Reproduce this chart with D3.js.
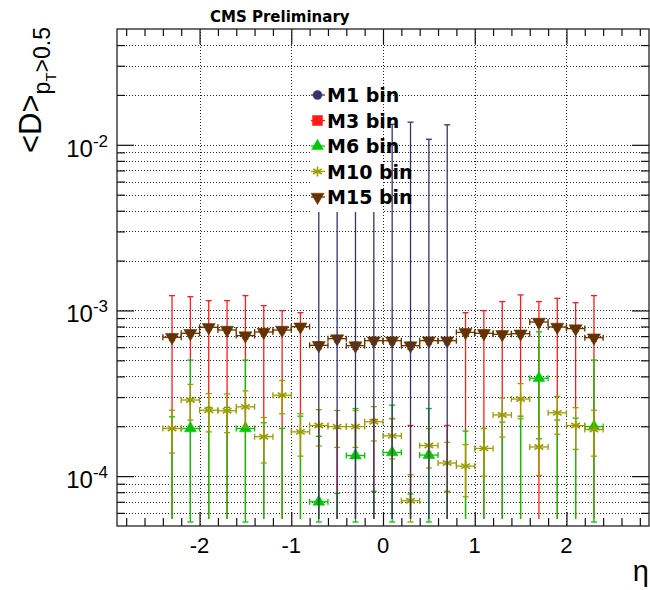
<!DOCTYPE html>
<html>
<head>
<meta charset="utf-8">
<script src="https://cdn.jsdelivr.net/npm/d3@7"></script>
<style>
  body { margin: 0; background: #fff; }
  text { font-family: "Liberation Sans", Arial, sans-serif; }
</style>
</head>
<body>
<div id="graph"></div>
<script>
// eta bin centres (bins of width 0.2)
const etaBins = [-2.3, -2.1, -1.9, -1.7, -1.5, -1.3, -1.1, -0.9, -0.7, -0.5, -0.3, -0.1,
                 0.1, 0.3, 0.5, 0.7, 0.9, 1.1, 1.3, 1.5, 1.7, 1.9, 2.1, 2.3];
const etaHalfWidth = 0.1;
const xTickValues = [-2, -1, 0, 1, 2];
const yDecades = [1e-4, 1e-3, 1e-2];
const yDecadeExp = ["-4", "-3", "-2"];
const titleText = "CMS Preliminary";

// null = no point in that bin, 0 = point at zero (only the error bar shows on log scale)
const m1Val = [null, null, null, null, null, null, null, null, 0, 0, 0, 0,
               0, 0, 0, 0, null, null, null, null, null, null, null, null];
const m1Err = [null, null, null, null, null, null, null, null, 0.0125, 0.0118, 0.0130, 0.0122,
               0.0133, 0.0137, 0.0108, 0.0132, null, null, null, null, null, null, null, null];

const m3Val = [0, 0, 0, 0, 0, 0, 0, 0, 0, 0, 0, 0,
               0, 0, null, 0, 0, 0, 0, 0, 0, 0, 0, 0];
const m3Err = [1.229e-3, 1.212e-3, 1.147e-3, 1.147e-3, 1.229e-3, 1.070e-3, 0.998e-3, 0.970e-3,
               1.99e-4, 1.94e-4, 2.02e-4, 2.20e-4, 2.22e-4, 2.02e-4, null, 2.02e-4,
               0.970e-3, 0.998e-3, 1.131e-3, 1.241e-3, 1.131e-3, 1.184e-3, 1.115e-3, 1.229e-3];

const m6Val = [0, 1.94e-4, 0, 0, 1.94e-4, 0, 0, 0, 7.0e-5, 0, 1.33e-4, 0,
               1.39e-4, 0, 1.34e-4, 0, 0, 0, 0, 0, 3.9e-4, 0, 0, 1.99e-4];
const m6ErrHi = [2.28e-4, 3.08e-4, 2.6e-4, 2.6e-4, 3.08e-4, 2.10e-4, 1.94e-4, 2.3e-4,
                 1.04e-4, 7.86e-5, 1.23e-4, 8.1e-5, 1.29e-4, 7.8e-5, 1.22e-4, 8.1e-5,
                 1.87e-4, 1.94e-4, 2.12e-4, 2.3e-4, 3.53e-4, 2.18e-4, 2.24e-4, 3.03e-4];
const m6ErrLo = [2.28e-4, 3.08e-4, 2.6e-4, 2.6e-4, 3.08e-4, 2.10e-4, 1.94e-4, 2.3e-4,
                 1.04e-4, 7.86e-5, 1.23e-4, 8.1e-5, 1.29e-4, 7.8e-5, 1.22e-4, 8.1e-5,
                 1.87e-4, 1.94e-4, 2.12e-4, 2.3e-4, 2.22e-4, 2.18e-4, 2.24e-4, 3.03e-4];

const m10Val = [1.94e-4, 2.88e-4, 2.50e-4, 2.48e-4, 2.62e-4, 1.73e-4, 3.08e-4, 1.85e-4,
                2.02e-4, 1.99e-4, 1.99e-4, 2.13e-4, 1.75e-4, 7.1e-5, 1.53e-4, 1.20e-4,
                1.15e-4, 1.47e-4, 2.34e-4, 2.92e-4, 1.50e-4, 2.41e-4, 2.02e-4, 1.91e-4];
const m10Err = [5.6e-5, 7.0e-5, 6.5e-5, 6.5e-5, 6.5e-5, 5.3e-5, 7.0e-5, 5.3e-5,
                5.0e-5, 5.0e-5, 5.0e-5, 5.0e-5, 4.8e-5, 3.1e-5, 4.1e-5, 4.0e-5,
                4.0e-5, 4.7e-5, 6.2e-5, 7.0e-5, 4.9e-5, 6.2e-5, 5.7e-5, 5.9e-5];

const m15Val = [6.89e-4, 7.28e-4, 7.91e-4, 7.62e-4, 7.05e-4, 7.41e-4, 7.62e-4, 7.98e-4,
                6.16e-4, 6.76e-4, 6.13e-4, 6.57e-4, 6.57e-4, 6.13e-4, 6.57e-4, 6.57e-4,
                7.38e-4, 7.28e-4, 7.18e-4, 7.24e-4, 8.52e-4, 7.95e-4, 7.77e-4, 6.85e-4];
const m15Err = [3e-5, 3e-5, 3e-5, 3e-5, 3e-5, 3e-5, 3e-5, 3e-5, 3e-5, 3e-5, 3e-5, 3e-5,
                3e-5, 3e-5, 3e-5, 3e-5, 3e-5, 3e-5, 3e-5, 3e-5, 3e-5, 3e-5, 3e-5, 3e-5];

const series = [
  { name: "M1 bin",  val: m1Val,  hi: m1Err,   lo: m1Err,   color: "#34346a", shape: d3.symbolCircle,   size: 64, rot: 0 },
  { name: "M3 bin",  val: m3Val,  hi: m3Err,   lo: m3Err,   color: "#ff1a1a", shape: d3.symbolSquare,   size: 100, rot: 0 },
  { name: "M6 bin",  val: m6Val,  hi: m6ErrHi, lo: m6ErrLo, color: "#00c800", shape: d3.symbolTriangle, size: 60, rot: 0 },
  { name: "M10 bin", val: m10Val, hi: m10Err,  lo: m10Err,  color: "#9c9c00", shape: d3.symbolAsterisk, size: 70, rot: 0, stroke: true },
  { name: "M15 bin", val: m15Val, hi: m15Err,  lo: m15Err,  color: "#663300", shape: d3.symbolTriangle, size: 75, rot: 180 }
];
// ROOT painted M3, M6, M10, M15 and then M1 on top
const drawOrder = [1, 2, 3, 4, 0];

const width = 650, height = 590;
const x = d3.scaleLinear().domain([-2.9, 2.9]).range([117, 649]);
const y = d3.scaleLog().domain([5e-5, 0.05]).range([526, 29]);
const [xl, xr] = x.range();
const [yb, yt] = y.range();

const svg = d3.select("#graph").append("svg")
  .attr("width", width).attr("height", height);

svg.append("defs").append("clipPath").attr("id", "frame")
  .append("rect").attr("x", xl).attr("y", yt).attr("width", xr - xl).attr("height", yb - yt);

// grid
const allYTicks = y.ticks().filter(v => v > y.domain()[0] && v < y.domain()[1]);
const grid = svg.append("g").attr("stroke", "#000").attr("stroke-width", 1)
  .attr("stroke-dasharray", "1,2").attr("opacity", 0.85);
grid.selectAll(".gy").data(allYTicks).enter().append("line")
  .attr("x1", xl).attr("x2", xr)
  .attr("y1", d => Math.round(y(d)) + 0.5).attr("y2", d => Math.round(y(d)) + 0.5);
grid.selectAll(".gx").data(xTickValues).enter().append("line")
  .attr("y1", yt).attr("y2", yb)
  .attr("x1", d => Math.round(x(d)) + 0.5).attr("x2", d => Math.round(x(d)) + 0.5);

const plot = svg.append("g").attr("clip-path", "url(#frame)");

function drawSeries(s) {
  const g = plot.append("g").attr("stroke", s.color).attr("stroke-width", 1.3);
  const [ymin, ymax] = y.domain();
  const capW = 3;
  etaBins.forEach((eta, i) => {
    const v = s.val[i];
    if (v === null) return;
    const onScale = v >= ymin && v <= ymax;
    const top = v + s.hi[i], bot = v - s.lo[i];
    const cx = x(eta);
    const y1 = top < ymax ? y(top) : yt;
    let y2, lowCap;
    if (bot > ymin) { y2 = y(bot); lowCap = true; }
    else { y2 = yb - (onScale ? 4 : 7); lowCap = onScale; }
    g.append("line").attr("x1", cx).attr("x2", cx).attr("y1", y1).attr("y2", y2);
    if (top < ymax) g.append("line").attr("x1", cx - capW).attr("x2", cx + capW).attr("y1", y1).attr("y2", y1);
    if (lowCap) g.append("line").attr("x1", cx - capW).attr("x2", cx + capW).attr("y1", y2).attr("y2", y2);
    if (!onScale) return;
    const cy = y(v);
    const xa = x(eta - etaHalfWidth), xb = x(eta + etaHalfWidth);
    g.append("line").attr("x1", xa).attr("x2", xb).attr("y1", cy).attr("y2", cy);
    g.append("line").attr("x1", xa).attr("x2", xa).attr("y1", cy - capW).attr("y2", cy + capW);
    g.append("line").attr("x1", xb).attr("x2", xb).attr("y1", cy - capW).attr("y2", cy + capW);
    drawMarker(g, s, cx, cy);
  });
}

function drawMarker(g, s, cx, cy) {
  g.append("path")
    .attr("d", d3.symbol().type(s.shape).size(s.size)())
    .attr("transform", `translate(${cx},${cy}) rotate(${s.rot})`)
    .attr("fill", s.stroke ? "none" : s.color)
    .attr("stroke", s.color)
    .attr("stroke-width", s.stroke ? 1.6 : 0.5);
}

drawOrder.forEach(k => drawSeries(series[k]));

// axes: ticks on all four sides, pointing inward
const xMinor = d3.range(-28, 29, 2).map(d => d / 10).filter(d => !xTickValues.includes(d));
const yMinor = allYTicks.filter(v => !yDecades.includes(v));
const axes = svg.append("g");
function tickAxis(axis, tx, ty) {
  const a = axes.append("g").attr("transform", `translate(${tx},${ty})`).call(axis);
  a.select(".domain").remove();
  a.selectAll("line").attr("stroke", "#111").attr("stroke-width", 1.2);
  return a;
}
tickAxis(d3.axisBottom(x).tickValues(xTickValues).tickSize(-14).tickFormat(""), 0, yb);
tickAxis(d3.axisBottom(x).tickValues(xMinor).tickSize(-8).tickFormat(""), 0, yb);
tickAxis(d3.axisTop(x).tickValues(xTickValues).tickSize(-15).tickFormat(""), 0, yt);
tickAxis(d3.axisTop(x).tickValues(xMinor).tickSize(-7).tickFormat(""), 0, yt);
tickAxis(d3.axisLeft(y).tickValues(yDecades).tickSize(-17).tickFormat(""), xl, 0);
tickAxis(d3.axisLeft(y).tickValues(yMinor).tickSize(-8).tickFormat(""), xl, 0);
tickAxis(d3.axisRight(y).tickValues(yDecades).tickSize(-17).tickFormat(""), xr, 0);
tickAxis(d3.axisRight(y).tickValues(yMinor).tickSize(-8).tickFormat(""), xr, 0);

svg.append("rect").attr("x", xl).attr("y", yt).attr("width", xr - xl).attr("height", yb - yt)
  .attr("fill", "none").attr("stroke", "#222").attr("stroke-width", 1.3);

// x tick labels
svg.selectAll(".xl").data(xTickValues).enter().append("text")
  .attr("x", d => x(d)).attr("y", 553)
  .attr("text-anchor", "middle").attr("font-size", 22).attr("fill", "#000")
  .text(d => d);

// y tick labels 10^n
const yl = svg.selectAll(".yl").data(yDecades).enter().append("text")
  .attr("x", 108).attr("y", d => y(d) + 12)
  .attr("text-anchor", "end").attr("fill", "#000");
yl.append("tspan").attr("font-size", 24).text("10");
yl.append("tspan").attr("font-size", 17).attr("dy", -10).text((d, i) => yDecadeExp[i]);

// axis titles
svg.append("text").attr("x", 649).attr("y", 581).attr("text-anchor", "end")
  .attr("font-size", 29).attr("fill", "#000").text("η");

const ytitle = svg.append("text").attr("transform", "translate(41,27) rotate(-90)")
  .attr("text-anchor", "end").attr("fill", "#000");
ytitle.append("tspan").attr("font-size", 31).text("<D>");
ytitle.append("tspan").attr("font-size", 23).attr("dy", 9).text("p");
ytitle.append("tspan").attr("font-size", 15).attr("dy", 6).text("T");
ytitle.append("tspan").attr("font-size", 23).attr("dy", -6).text(">0.5");

// title
svg.append("text").attr("x", 210).attr("y", 22)
  .style("font-family", "'DejaVu Sans', sans-serif").attr("font-weight", "bold")
  .attr("font-size", 15).attr("fill", "#000").text(titleText);

// legend (white box hides what lies under it)
const leg = svg.append("g");
leg.append("rect").attr("x", 311).attr("y", 72).attr("width", 71).attr("height", 140).attr("fill", "#fff");
series.forEach((s, i) => {
  const ly = 95 + i * 25.5;
  const g = leg.append("g").attr("stroke", s.color).attr("stroke-width", 1.3);
  g.append("line").attr("x1", 311).attr("x2", 325).attr("y1", ly).attr("y2", ly);
  drawMarker(g, s, 317.5, ly);
  leg.append("text").attr("x", 327).attr("y", ly + 7)
    .style("font-family", "'DejaVu Sans', sans-serif").attr("font-weight", "bold")
    .attr("font-size", 19).attr("fill", "#000").text(s.name);
});
</script>
</body>
</html>
